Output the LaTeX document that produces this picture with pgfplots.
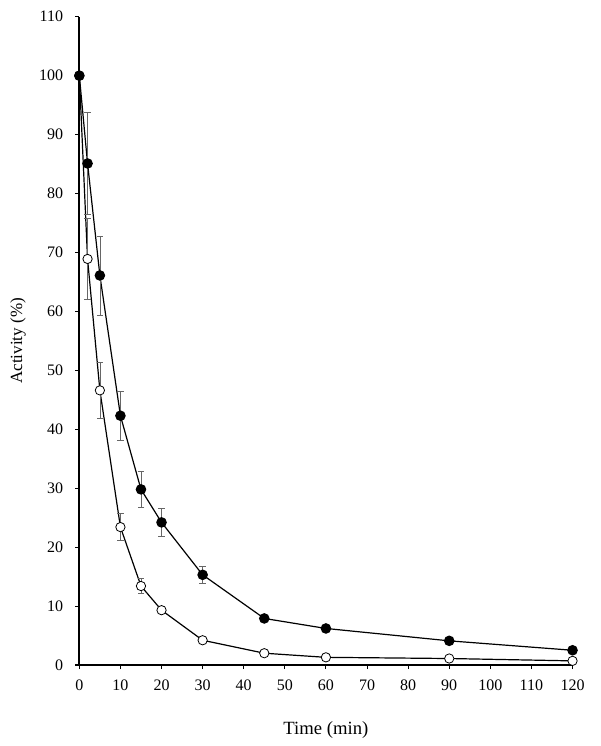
\documentclass[border=0pt]{standalone}
\usepackage{pgfplots}
\pgfplotsset{compat=1.18}
\usepackage{fontspec}
\setmainfont{Liberation Serif}
\begin{document}
\fontsize{12}{14}\selectfont
\begin{tikzpicture}
\begin{axis}[
  scale only axis,
  width=369.9pt, height=486.2pt,
  xmin=0, xmax=120, ymin=0, ymax=110,
  xtick={0,10,...,120}, ytick={0,10,...,110},
  axis lines*=left,
  axis line style={line width=1.5pt},
  tick align=outside,
  major tick length=3pt,
  tick style={black, line width=0.8pt},
  /pgf/number format/assume math mode=true,
  ticklabel style={font=\fontsize{12}{14}\selectfont},
  xlabel={Time (min)},
  ylabel={Activity (\%)},
  every axis x label/.style={at={(axis description cs:0.5,-0.1003)}, anchor=center, font=\fontsize{14}{16}\selectfont},
  every axis y label/.style={at={(axis description cs:-0.1244,0.5)}, anchor=center, rotate=90, font=\fontsize{12.8}{15}\selectfont},
  xticklabel style={yshift=-4pt},
  yticklabel style={xshift=-5pt},
  clip=false,
]
\addplot[black, line width=0.9pt, mark=*, mark size=3.5pt,
  mark options={fill=white, draw=black, line width=0.6pt},
  error bars/.cd, y dir=both, y explicit,
  error bar style={gray!80!black, line width=0.5pt},
  error mark options={rotate=90, mark size=2.5pt, gray!80!black, line width=0.5pt}]
  table[x=x, y=y, y error=e] {
x y e
0 100 0
2 68.9 6.9
5 46.6 4.7
10 23.4 2.3
15 13.4 1.3
20 9.3 0.6
30 4.2 0.3
45 2.0 0.2
60 1.3 0.1
90 1.1 0.1
120 0.7 0.1
};
\addplot[black, line width=0.9pt, mark=*, mark size=3.5pt,
  mark options={fill=black, draw=black},
  error bars/.cd, y dir=both, y explicit,
  error bar style={gray!80!black, line width=0.5pt},
  error mark options={rotate=90, mark size=2.5pt, gray!80!black, line width=0.5pt}]
  table[x=x, y=y, y error=e] {
x y e
0 100 0
2 85.1 8.6
5 66.1 6.7
10 42.3 4.2
15 29.8 3.0
20 24.2 2.4
30 15.3 1.5
45 7.9 0.5
60 6.2 0.4
90 4.1 0.3
120 2.5 0.2
};
\end{axis}
\pgfresetboundingbox
\path ([xshift=-59.5pt,yshift=-60.75pt]current axis.south west) rectangle ++(450pt,559.5pt);
\end{tikzpicture}
\end{document}
